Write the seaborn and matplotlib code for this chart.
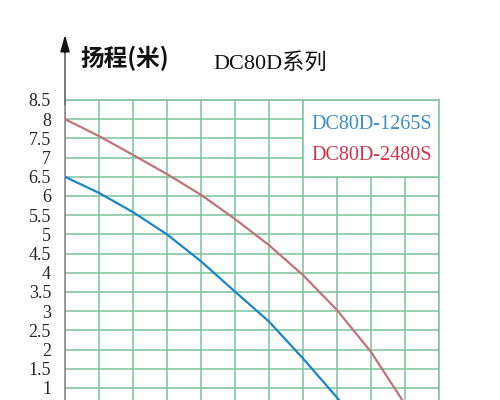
import numpy as np
import pandas as pd
import matplotlib
matplotlib.use("Agg")
import matplotlib.pyplot as plt
from matplotlib.patches import Rectangle
import seaborn as sns

# ---- data (flow in grid units, head in metres) ----
x_1265 = [0, 1, 2, 3, 4, 5, 6, 7, 8, 8.6]
h_1265 = [6.5, 6.08, 5.58, 5.0, 4.3, 3.51, 2.73, 1.77, 0.75, 0.1]
x_2480 = [0, 1, 2, 3, 4, 5, 6, 7, 8, 9, 9.88, 10.35]
h_2480 = [8.0, 7.56, 7.07, 6.57, 6.03, 5.4, 4.72, 3.94, 3.03, 1.94, 0.74, 0.05]
series_names = ["DC80D-1265S", "DC80D-2480S"]
y_ticks = [1, 1.5, 2, 2.5, 3, 3.5, 4, 4.5, 5, 5.5, 6, 6.5, 7, 7.5, 8, 8.5]
y_tick_labels = ["1", "1.5", "2", "2.5", "3", "3.5", "4", "4.5", "5",
                 "5.5", "6", "6.5", "7", "7.5", "8", "8.5"]
y_grid = [0.5] + y_ticks
x_grid = list(range(0, 12))
title = "DC80D系列"
ylabel = "扬程(米)"

df = pd.concat([
    pd.DataFrame({"x": x_1265, "h": h_1265, "model": series_names[0]}),
    pd.DataFrame({"x": x_2480, "h": h_2480, "model": series_names[1]}),
])

sns.set_style("white")
plt.rcParams["font.family"] = ["Liberation Serif", "Noto Sans CJK SC"]

grid_col = "#7cc1a0"
blue = "#1a86c4"
red = "#c0737a"

fig = plt.figure(figsize=(5, 4), dpi=100)
ax = fig.add_axes([65 / 500, 1 - 426.4 / 400, 374 / 500, 326.4 / 400])

sns.lineplot(data=df, x="x", y="h", hue="model", sort=False,
             palette={series_names[0]: blue, series_names[1]: red},
             linewidth=1.6, legend=False, ax=ax, zorder=3, estimator=None)

ax.set_xlim(0, 11)
ax.set_ylim(0, 8.5)
ax.set_xticks(x_grid)
ax.set_xticklabels([])
ax.set_yticks(y_grid)
ax.set_yticklabels([""] + y_tick_labels, fontsize=13)
ax.tick_params(axis="y", length=0, pad=10)
ax.tick_params(axis="x", length=0)
ax.set_xlabel("")
ax.set_ylabel("")
ax.grid(True, color=grid_col, linewidth=1.1)
ax.set_axisbelow(True)

for side in ["top", "right", "bottom"]:
    ax.spines[side].set_color(grid_col)
    ax.spines[side].set_linewidth(1.1)
ax.spines["left"].set_color("#8a8a8a")
ax.spines["left"].set_linewidth(1.2)

# white legend panel covering the grid
ax.add_patch(Rectangle((7, 6.5), 4, 2, facecolor="white", edgecolor=grid_col,
                       linewidth=1.1, zorder=1))
ax.text(10.8, 7.87, series_names[0], color="#3a8fc2", fontsize=14.5,
        ha="right", va="center", family=["Liberation Serif"], zorder=4)
ax.text(10.8, 7.05, series_names[1], color="#d2344c", fontsize=14.5,
        ha="right", va="center", family=["Liberation Serif"], zorder=4)

# arrow on the vertical axis
ax.annotate("", xy=(0, 10.2), xytext=(0, 8.4), xycoords="data",
            annotation_clip=False,
            arrowprops=dict(arrowstyle="-|>,head_length=1.0,head_width=0.28",
                            color="#111111", lw=1.2, shrinkA=0, shrinkB=0))
ax.plot([0, 0], [8.4, 9.7], color="#8a8a8a", lw=1.2, clip_on=False, zorder=5)

fig.text(80 / 500, 1 - 58 / 400, ylabel, fontsize=17, fontweight="bold",
         ha="left", va="center", family=["Noto Sans CJK SC"], color="#111111")
fig.text(270 / 500, 1 - 63 / 400, title, fontsize=16, ha="center", va="center",
         family=["Liberation Serif", "Noto Sans CJK SC"], color="#111111")

fig.savefig("out.png", dpi=100)
